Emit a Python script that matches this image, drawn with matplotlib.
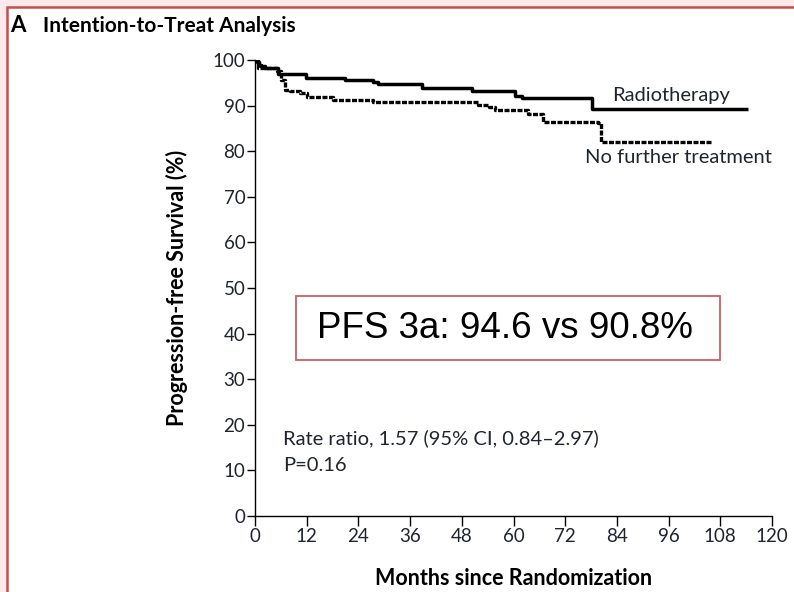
import matplotlib
matplotlib.use("Agg")
import matplotlib.pyplot as plt
from matplotlib.patches import Rectangle

plt.rcParams["font.family"] = ["Lato", "DejaVu Sans"]

# Kaplan-Meier step points (months, % progression-free)
rt_months = [0, 0.5, 1.0, 1.5, 2.3, 5.3, 11.8, 20.9, 27.4, 28.5, 38.7, 50.3, 60.3, 62.0, 78.2, 114.4]
rt_pfs = [100, 99.5, 99.0, 98.6, 98.2, 96.9, 96.1, 95.6, 95.2, 94.8, 93.9, 93.2, 92.1, 91.6, 89.2, 89.2]

nft_months = [0, 0.6, 5.0, 6.0, 7.0, 8.1, 10.4, 12.0, 18.1, 27.4, 51.7, 54.3, 55.7, 63.3, 66.9, 79.6, 80.3, 106.0]
nft_pfs = [100, 98.2, 97.5, 95.6, 93.4, 93.1, 92.7, 91.8, 91.2, 90.7, 90.1, 89.8, 89.0, 88.1, 86.5, 86.2, 82.1, 82.1]

x_ticks = list(range(0, 121, 12))
y_ticks = list(range(0, 101, 10))

W, H = 794, 592
fig = plt.figure(figsize=(W / 100, H / 100), dpi=100)


def px(x, y):
    # pixel position (from top-left) -> figure fraction
    return x / W, 1 - y / H


# page frame: pink margin with a red rule on the left and top
fig.patches.append(Rectangle((0, 0), 1, 1, transform=fig.transFigure,
                             facecolor="#fde9e9", edgecolor="none", zorder=-3))
fig.patches.append(Rectangle((7 / W, -0.01), 1.0, 1 - 7 / H + 0.01, transform=fig.transFigure,
                             facecolor="white", edgecolor="#c0504d", linewidth=1.8, zorder=-2))

ax = fig.add_axes([255 / W, 76 / H, 517 / W, 456 / H])
ax.set_facecolor("none")

ax.step(rt_months, rt_pfs, where="post", color="black", linewidth=2.5,
        solid_capstyle="butt")
ax.step(nft_months, nft_pfs, where="post", color="black", linewidth=2.4,
        linestyle=(0, (1.5, 0.45)), dash_capstyle="butt")

ax.set_xlim(0, 120)
ax.set_ylim(0, 100)
ax.set_xticks(x_ticks)
ax.set_yticks(y_ticks)
for s in ("top", "right"):
    ax.spines[s].set_visible(False)
for s in ("left", "bottom"):
    ax.spines[s].set_linewidth(1.0)
ax.tick_params(axis="y", direction="out", length=6, width=1.0, labelsize=13.5,
               colors="black", labelcolor="#1f2430", pad=1)
ax.tick_params(axis="x", direction="out", length=7, width=1.0, labelsize=13.5,
               colors="black", labelcolor="#1f2430", pad=2)

ax.set_xlabel("Months since Randomization", fontsize=15.5, fontweight="bold", labelpad=16)
ax.set_ylabel("Progression-free Survival (%)", fontsize=15.5, fontweight="bold", labelpad=18)

ax.text(83, 92.3, "Radiotherapy", fontsize=14.5, color="#1f2430", ha="left", va="center")
ax.text(76.6, 78.7, "No further treatment", fontsize=14.5, color="#1f2430", ha="left", va="center")

ax.text(6.5, 17.1, "Rate ratio, 1.57 (95% CI, 0.84\u20132.97)", fontsize=14.5,
        color="#1f2430", va="center")
ax.text(6.5, 11.0, "P=0.16", fontsize=14.5, color="#1f2430", va="center")

# summary box
x0, y0 = px(296, 360)
x1, y1 = px(720, 296)
fig.patches.append(Rectangle((x0, y0), x1 - x0, y1 - y0, transform=fig.transFigure,
                             facecolor="white", edgecolor="#c9605e", linewidth=1.3))
fig.text(*px(505, 329), "PFS 3a: 94.6 vs 90.8%", fontsize=26.5,
         family=["Liberation Sans", "DejaVu Sans"], ha="center", va="center")

fig.text(*px(10, 26), "A", fontsize=16, fontweight="bold", va="center")
fig.text(*px(43, 26), "Intention-to-Treat Analysis", fontsize=15,
         fontweight="bold", va="center")

fig.savefig("out.png", dpi=100)
